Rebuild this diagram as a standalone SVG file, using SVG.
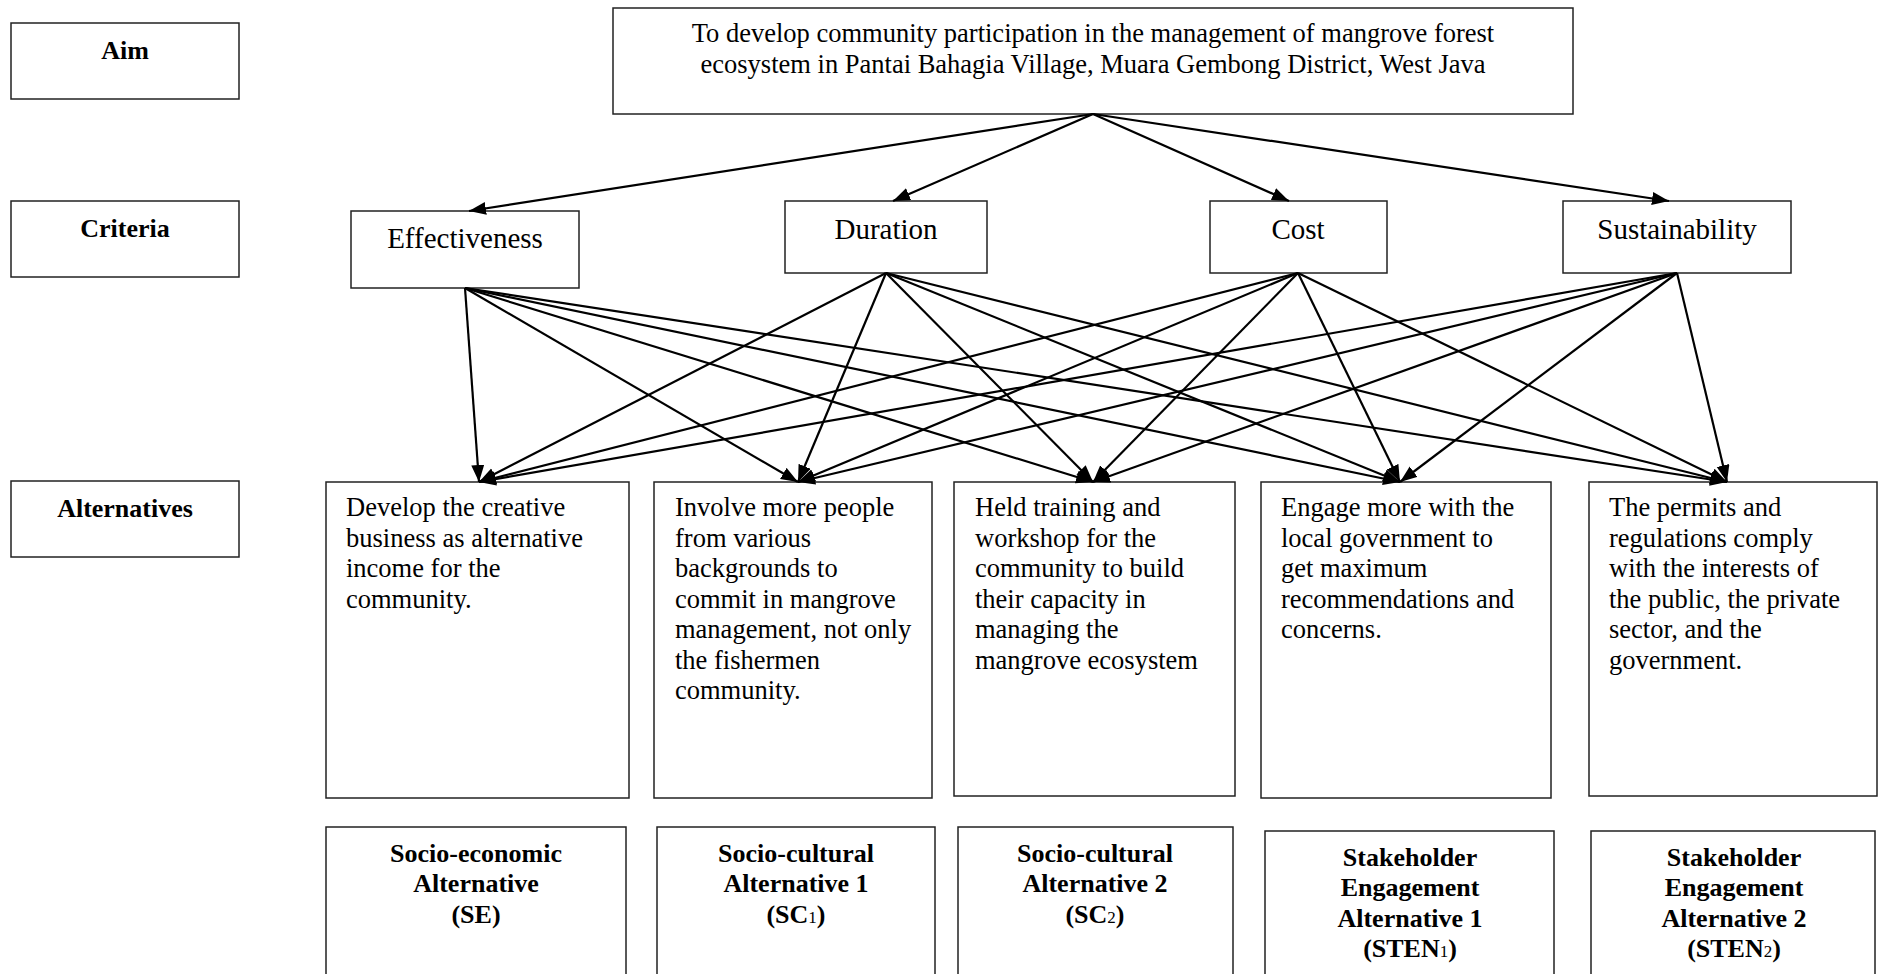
<svg xmlns="http://www.w3.org/2000/svg" width="1885" height="974" viewBox="0 0 1885 974">
<defs>
<style>
.box{fill:#fff;stroke:#222;stroke-width:1.5}
.t{font-family:"Liberation Serif","Times New Roman",serif;font-size:26.5px;fill:#000}
.c{font-family:"Liberation Serif","Times New Roman",serif;font-size:29px;fill:#000;text-anchor:middle}
.b{font-family:"Liberation Serif","Times New Roman",serif;font-size:26px;font-weight:bold;fill:#000;text-anchor:middle}
.m{text-anchor:middle}
.sub{font-size:17px;font-weight:normal}
.e{stroke:#000;stroke-width:2.2;fill:none;marker-end:url(#ah)}
</style>
<marker id="ah" markerUnits="userSpaceOnUse" markerWidth="18" markerHeight="14" refX="17" refY="6.5" orient="auto">
<path d="M0,0 L17,6.5 L0,13 z" fill="#000"/>
</marker>
</defs>
<rect width="1885" height="974" fill="#fff"/>

<g id="label-aim"><rect class="box" x="11" y="23" width="228" height="76"/><text class="b" x="125" y="59">Aim</text></g>
<g id="label-criteria"><rect class="box" x="11" y="201" width="228" height="76"/><text class="b" x="125" y="237">Criteria</text></g>
<g id="label-alternatives"><rect class="box" x="11" y="481" width="228" height="76"/><text class="b" x="125" y="517">Alternatives</text></g>

<g id="aim"><rect class="box" x="613" y="8" width="960" height="106"/>
<text class="t m" x="1093" y="42">To develop community participation in the management of mangrove forest</text>
<text class="t m" x="1093" y="73">ecosystem in Pantai Bahagia Village, Muara Gembong District, West Java</text></g>

<g id="crit-effectiveness"><rect class="box" x="351" y="211" width="228" height="77"/><text class="c" x="465" y="248">Effectiveness</text></g>
<g id="crit-duration"><rect class="box" x="785" y="201" width="202" height="72"/><text class="c" x="886" y="239">Duration</text></g>
<g id="crit-cost"><rect class="box" x="1210" y="201" width="177" height="72"/><text class="c" x="1298" y="239">Cost</text></g>
<g id="crit-sustainability"><rect class="box" x="1563" y="201" width="228" height="72"/><text class="c" x="1677" y="239">Sustainability</text></g>

<g id="alt-1"><rect class="box" x="326" y="482" width="303" height="316"/>
<text class="t" x="346"><tspan x="346" y="516">Develop the creative</tspan><tspan x="346" y="546.5">business as alternative</tspan><tspan x="346" y="577">income for the</tspan><tspan x="346" y="607.5">community.</tspan></text></g>
<g id="alt-2"><rect class="box" x="654" y="482" width="278" height="316"/>
<text class="t" x="675"><tspan x="675" y="516">Involve more people</tspan><tspan x="675" y="546.5">from various</tspan><tspan x="675" y="577">backgrounds to</tspan><tspan x="675" y="607.5">commit in mangrove</tspan><tspan x="675" y="638">management, not only</tspan><tspan x="675" y="668.5">the fishermen</tspan><tspan x="675" y="699">community.</tspan></text></g>
<g id="alt-3"><rect class="box" x="954" y="482" width="281" height="314"/>
<text class="t" x="975"><tspan x="975" y="516">Held training and</tspan><tspan x="975" y="546.5">workshop for the</tspan><tspan x="975" y="577">community to build</tspan><tspan x="975" y="607.5">their capacity in</tspan><tspan x="975" y="638">managing the</tspan><tspan x="975" y="668.5">mangrove ecosystem</tspan></text></g>
<g id="alt-4"><rect class="box" x="1261" y="482" width="290" height="316"/>
<text class="t" x="1281"><tspan x="1281" y="516">Engage more with the</tspan><tspan x="1281" y="546.5">local government to</tspan><tspan x="1281" y="577">get maximum</tspan><tspan x="1281" y="607.5">recommendations and</tspan><tspan x="1281" y="638">concerns.</tspan></text></g>
<g id="alt-5"><rect class="box" x="1589" y="482" width="288" height="314"/>
<text class="t" x="1609"><tspan x="1609" y="516">The permits and</tspan><tspan x="1609" y="546.5">regulations comply</tspan><tspan x="1609" y="577">with the interests of</tspan><tspan x="1609" y="607.5">the public, the private</tspan><tspan x="1609" y="638">sector, and the</tspan><tspan x="1609" y="668.5">government.</tspan></text></g>

<g id="code-se"><rect class="box" x="326" y="827" width="300" height="170"/>
<text class="b"><tspan x="476" y="862">Socio-economic</tspan><tspan x="476" y="892">Alternative</tspan><tspan x="476" y="923">(SE)</tspan></text></g>
<g id="code-sc1"><rect class="box" x="657" y="827" width="278" height="170"/>
<text class="b"><tspan x="796" y="862">Socio-cultural</tspan><tspan x="796" y="892">Alternative 1</tspan><tspan x="796" y="923">(SC<tspan class="sub">1</tspan>)</tspan></text></g>
<g id="code-sc2"><rect class="box" x="958" y="827" width="275" height="170"/>
<text class="b"><tspan x="1095" y="862">Socio-cultural</tspan><tspan x="1095" y="892">Alternative 2</tspan><tspan x="1095" y="923">(SC<tspan class="sub">2</tspan>)</tspan></text></g>
<g id="code-sten1"><rect class="box" x="1265" y="831" width="289" height="170"/>
<text class="b"><tspan x="1410" y="866">Stakeholder</tspan><tspan x="1410" y="896">Engagement</tspan><tspan x="1410" y="927">Alternative 1</tspan><tspan x="1410" y="957">(STEN<tspan class="sub">1</tspan>)</tspan></text></g>
<g id="code-sten2"><rect class="box" x="1591" y="831" width="284" height="170"/>
<text class="b"><tspan x="1734" y="866">Stakeholder</tspan><tspan x="1734" y="896">Engagement</tspan><tspan x="1734" y="927">Alternative 2</tspan><tspan x="1734" y="957">(STEN<tspan class="sub">2</tspan>)</tspan></text></g>

<g id="connectors">
<line class="e" x1="1093" y1="114" x2="469" y2="211"/>
<line class="e" x1="1093" y1="114" x2="893" y2="201"/>
<line class="e" x1="1093" y1="114" x2="1289" y2="201"/>
<line class="e" x1="1093" y1="114" x2="1669" y2="201"/>

<line class="e" x1="465" y1="288" x2="479" y2="482"/>
<line class="e" x1="465" y1="288" x2="798" y2="482"/>
<line class="e" x1="465" y1="288" x2="1093" y2="482"/>
<line class="e" x1="465" y1="288" x2="1400" y2="482"/>
<line class="e" x1="465" y1="288" x2="1727" y2="482"/>

<line class="e" x1="886" y1="273" x2="479" y2="482"/>
<line class="e" x1="886" y1="273" x2="798" y2="482"/>
<line class="e" x1="886" y1="273" x2="1093" y2="482"/>
<line class="e" x1="886" y1="273" x2="1400" y2="482"/>
<line class="e" x1="886" y1="273" x2="1727" y2="482"/>

<line class="e" x1="1298" y1="273" x2="479" y2="482"/>
<line class="e" x1="1298" y1="273" x2="798" y2="482"/>
<line class="e" x1="1298" y1="273" x2="1093" y2="482"/>
<line class="e" x1="1298" y1="273" x2="1400" y2="482"/>
<line class="e" x1="1298" y1="273" x2="1727" y2="482"/>

<line class="e" x1="1677" y1="273" x2="479" y2="482"/>
<line class="e" x1="1677" y1="273" x2="798" y2="482"/>
<line class="e" x1="1677" y1="273" x2="1093" y2="482"/>
<line class="e" x1="1677" y1="273" x2="1400" y2="482"/>
<line class="e" x1="1677" y1="273" x2="1727" y2="482"/>
</g>
</svg>
